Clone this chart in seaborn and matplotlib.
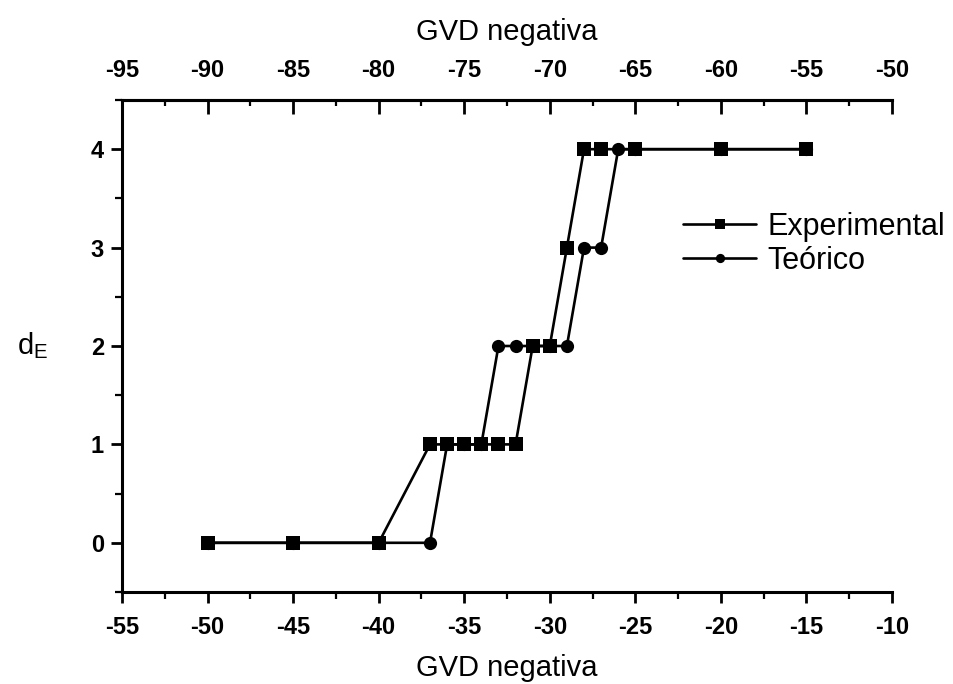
import numpy as np
import pandas as pd
from matplotlib import pyplot as plt
from matplotlib.ticker import MultipleLocator
import seaborn as sns

# ---------- data ----------
exp_gvd = [-50, -45, -40, -37, -36, -35, -34, -33, -32, -31, -30, -29, -28, -27, -25, -20, -15]
exp_de = [0, 0, 0, 1, 1, 1, 1, 1, 1, 2, 2, 3, 4, 4, 4, 4, 4]

teo_gvd = [-50, -45, -40, -37, -36, -35, -34, -33, -32, -31, -30, -29, -28, -27, -26, -25, -20, -15]
teo_de = [0, 0, 0, 0, 1, 1, 1, 2, 2, 2, 2, 2, 3, 3, 4, 4, 4, 4]

bottom_ticks = [-55, -50, -45, -40, -35, -30, -25, -20, -15, -10]
y_ticks = [0, 1, 2, 3, 4]
top_offset = -40  # top axis = bottom axis - 40

sns.set_style("ticks")
plt.rcParams["font.family"] = ["Liberation Sans", "DejaVu Sans"]
plt.rcParams["mathtext.default"] = "regular"
plt.rcParams["axes.unicode_minus"] = False
for key in ["text.color", "axes.labelcolor", "xtick.color", "ytick.color", "axes.edgecolor"]:
    plt.rcParams[key] = "black"

df_exp = pd.DataFrame({"gvd": exp_gvd, "de": exp_de})
df_teo = pd.DataFrame({"gvd": teo_gvd, "de": teo_de})

fig = plt.figure(figsize=(9.54, 6.84), dpi=100)
ax = fig.add_axes([0.1279, 0.1345, 0.8071, 0.7193])

sns.lineplot(
    data=df_teo, x="gvd", y="de", sort=False, color="black", linewidth=1.9,
    marker="o", markersize=9.5, markeredgewidth=0, label="Teórico", ax=ax,
)
sns.lineplot(
    data=df_exp, x="gvd", y="de", sort=False, color="black", linewidth=1.9,
    marker="s", markersize=10.5, markeredgewidth=0, label="Experimental", ax=ax,
)

ax.set_xlim(-55, -10)
ax.set_ylim(-0.5, 4.5)
ax.set_xticks(bottom_ticks)
ax.set_yticks(y_ticks)
ax.xaxis.set_minor_locator(MultipleLocator(2.5))
ax.yaxis.set_minor_locator(MultipleLocator(0.5))
ax.tick_params(axis="both", which="major", direction="out", length=8, width=2,
               labelsize=17)
ax.tick_params(axis="x", which="major", pad=9)
ax.tick_params(axis="y", which="major", pad=5)
ax.tick_params(axis="both", which="minor", direction="out", length=5, width=1.6)
for lbl in ax.get_xticklabels() + ax.get_yticklabels():
    lbl.set_fontweight("bold")

for side in ["left", "bottom", "top"]:
    ax.spines[side].set_linewidth(2.2)
ax.spines["right"].set_visible(False)

ax.set_xlabel("GVD negativa", fontsize=21, labelpad=11)
ax.set_ylabel("d$_E$", fontsize=21, rotation=0, labelpad=42, va="center")

top = ax.secondary_xaxis("top", functions=(lambda x: x + top_offset, lambda x: x - top_offset))
top.set_xticks([t + top_offset for t in bottom_ticks])
top.xaxis.set_minor_locator(MultipleLocator(2.5))
top.tick_params(axis="x", which="major", direction="in", length=10, width=2,
                labelsize=17, pad=13)
top.tick_params(axis="x", which="minor", direction="in", length=4, width=1.6)
top.spines["top"].set_linewidth(2.2)
for lbl in top.get_xticklabels():
    lbl.set_fontweight("bold")
top.set_xlabel("GVD negativa", fontsize=21, labelpad=14)

handles, labels = ax.get_legend_handles_labels()
ax.get_legend().remove()
order = [labels.index("Experimental"), labels.index("Teórico")]
fig.legend(
    [handles[i] for i in order], [labels[i] for i in order],
    loc="upper left", bbox_to_anchor=(0.716, 0.69), frameon=False,
    fontsize=22, handlelength=2.4, handletextpad=0.35, labelspacing=0.12,
    markerscale=0.7, borderaxespad=0, borderpad=0,
)

plt.savefig("out.png", dpi=100)
